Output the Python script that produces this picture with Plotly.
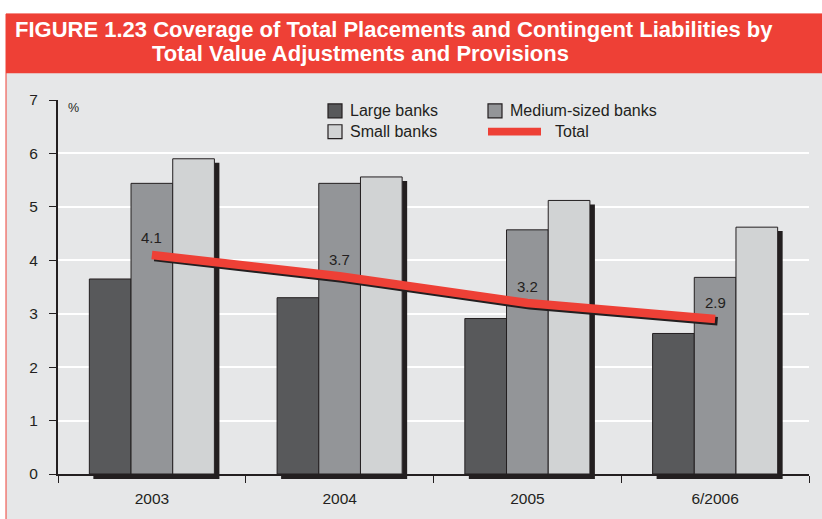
import plotly.graph_objects as go

# ---- data -------------------------------------------------------------
periods = ["2003", "2004", "2005", "6/2006"]
large_banks = [3.65, 3.30, 2.91, 2.63]
medium_banks = [5.44, 5.44, 4.57, 3.68]
small_banks = [5.90, 5.56, 5.12, 4.62]
total = [4.1, 3.7, 3.2, 2.9]
y_ticks = [0, 1, 2, 3, 4, 5, 6, 7]

# ---- styling ----------------------------------------------------------
FONT = "Liberation Sans, Arial, sans-serif"
INK = "#231f20"
RED = "#ee4036"
PANEL = "#e6e7e8"
C_LARGE, C_MED, C_SMALL = "#58595b", "#939598", "#d1d3d4"

WIDTH, HEIGHT = 822, 519
L, R, T, B = 58, 809, 100, 478          # plot area in pixels
PW, PH = R - L, B - T
BARGAP = 0.334
Y_MAX = 7
px_per_y = PH / Y_MAX
px_per_x = PW / len(periods)


def fx(p):
    return (p - L) / PW


def fy(p):
    return (B - p) / PH


xs = list(range(len(periods)))

fig = go.Figure()
for name, vals, col in [("Large banks", large_banks, C_LARGE),
                        ("Medium-sized banks", medium_banks, C_MED),
                        ("Small banks", small_banks, C_SMALL)]:
    fig.add_trace(go.Bar(x=xs, y=vals, name=name, marker_color=col,
                         marker_line=dict(color=INK, width=1),
                         showlegend=False, hoverinfo="skip"))

# Total line with its drop shadow
fig.add_trace(go.Scatter(x=[x + 2.5 / px_per_x for x in xs],
                         y=[v - 2.2 / px_per_y for v in total],
                         mode="lines", line=dict(color=INK, width=8.5),
                         showlegend=False, hoverinfo="skip"))
fig.add_trace(go.Scatter(x=xs, y=total, mode="lines", name="Total",
                         line=dict(color=RED, width=8.5),
                         showlegend=False, hoverinfo="skip"))

shapes = []
# panel background, red frame and banner
shapes.append(dict(type="rect", xref="paper", yref="paper", layer="below",
                   x0=fx(6), x1=fx(830), y0=fy(530), y1=fy(13),
                   fillcolor=PANEL, line=dict(color=RED, width=1)))
shapes.append(dict(type="rect", xref="paper", yref="paper", layer="below",
                   x0=fx(6), x1=fx(830), y0=fy(73), y1=fy(13),
                   fillcolor=RED, line=dict(width=0)))

# drop shadow behind each group of bars
half = (1 - BARGAP) / 2
for i, top in enumerate(small_banks):
    shapes.append(dict(type="rect", xref="x", yref="y", layer="between",
                       xsizemode="pixel", xanchor=i + half, x0=0, x1=5,
                       y0=0, y1=top - 4 / px_per_y,
                       fillcolor=INK, line=dict(width=0)))
    shapes.append(dict(type="rect", xref="x", yref="paper", layer="between",
                       x0=i - half + 4 / px_per_x, x1=i + half + 5 / px_per_x,
                       ysizemode="pixel", yanchor=0, y0=-5, y1=0,
                       fillcolor=INK, line=dict(width=0)))

annotations = []
# title
annotations.append(dict(xref="paper", yref="paper", x=fx(13), y=fy(29),
                        xanchor="left", yanchor="middle", showarrow=False,
                        text="<b>FIGURE 1.23 Coverage of Total Placements and Contingent Liabilities by</b>",
                        font=dict(family=FONT, size=22, color="white")))
annotations.append(dict(xref="paper", yref="paper", x=fx(150), y=fy(53),
                        xanchor="left", yanchor="middle", showarrow=False,
                        text="<b>Total Value Adjustments and Provisions</b>",
                        font=dict(family=FONT, size=22, color="white")))
# unit
annotations.append(dict(xref="paper", yref="paper", x=fx(66), y=fy(108),
                        xanchor="left", yanchor="middle", showarrow=False,
                        text="%", font=dict(family=FONT, size=12.5, color=INK)))
# value labels on the total line
for i, v in enumerate(total):
    annotations.append(dict(x=i, y=v, xref="x", yref="y", yshift=17,
                            showarrow=False, text=f"{v:.1f}",
                            font=dict(family=FONT, size=15, color=INK)))

# legend
legend_items = [("Large banks", C_LARGE, 328, 111, "box"),
                ("Medium-sized banks", C_MED, 488, 111, "box"),
                ("Small banks", C_SMALL, 328, 132, "box"),
                ("Total", RED, 488, 132, "line")]
for label, col, lx, ly, kind in legend_items:
    if kind == "box":
        shapes.append(dict(type="rect", xref="paper", yref="paper",
                           x0=fx(lx), x1=fx(lx + 14), y0=fy(ly + 7), y1=fy(ly - 7),
                           fillcolor=col, line=dict(color=INK, width=1.2)))
        tx = lx + 20
    else:
        shapes.append(dict(type="rect", xref="paper", yref="paper",
                           x0=fx(lx), x1=fx(lx + 53), y0=fy(ly + 4), y1=fy(ly - 4),
                           fillcolor=col, line=dict(width=0)))
        tx = lx + 65
    annotations.append(dict(xref="paper", yref="paper", x=fx(tx), y=fy(ly),
                            xanchor="left", yanchor="middle", showarrow=False,
                            text=label, font=dict(family=FONT, size=16, color=INK)))

boundaries = [i - 0.5 for i in range(len(periods) + 1)]

fig.update_layout(
    width=WIDTH, height=HEIGHT, autosize=False,
    margin=dict(l=L, r=WIDTH - R, t=T, b=HEIGHT - B, pad=0),
    paper_bgcolor="white", plot_bgcolor="rgba(0,0,0,0)",
    barmode="group", bargap=BARGAP, bargroupgap=0,
    shapes=shapes, annotations=annotations,
    font=dict(family=FONT, color=INK),
    showlegend=False,
    xaxis=dict(range=[-0.5, len(periods) - 0.5], tickmode="array",
               tickvals=xs, ticktext=periods, ticks="",
               showgrid=False, zeroline=False,
               showline=True, linecolor=INK, linewidth=2,
               tickfont=dict(family=FONT, size=15.5, color=INK),
               ticklabelstandoff=9,
               minor=dict(tickmode="array", tickvals=boundaries,
                          ticks="outside", ticklen=7, tickwidth=1.2,
                          tickcolor=INK, showgrid=False)),
    yaxis=dict(range=[0, Y_MAX], tickmode="array", tickvals=y_ticks,
               ticks="outside", ticklen=7, tickwidth=1.2, tickcolor=INK,
               showgrid=True, gridcolor="white", gridwidth=1.5,
               zeroline=False, showline=True, linecolor=INK, linewidth=2,
               tickfont=dict(family=FONT, size=15.5, color=INK),
               ticklabelstandoff=8),
)

fig.write_html("out.html")
